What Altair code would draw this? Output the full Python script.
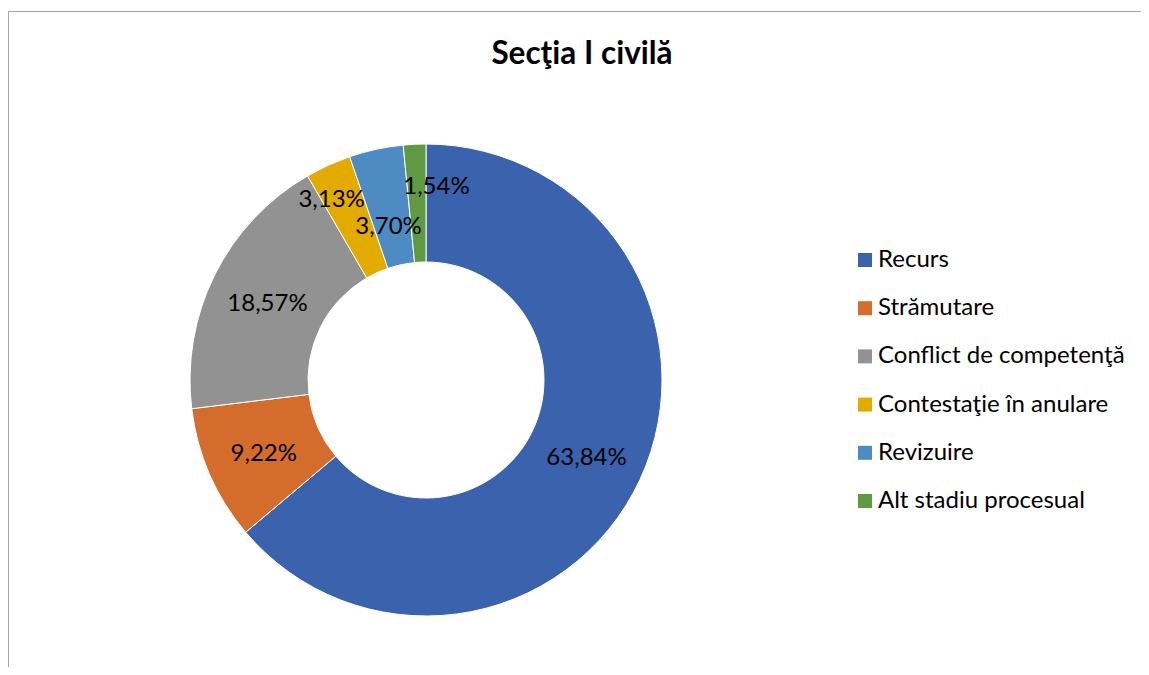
import altair as alt
import pandas as pd

title_text = "Secţia I civilă"
categories = ["Recurs", "Strămutare", "Conflict de competenţă",
              "Contestaţie în anulare", "Revizuire", "Alt stadiu procesual"]
values = [63.84, 9.22, 18.57, 3.13, 3.70, 1.54]
labels = ["63,84%", "9,22%", "18,57%", "3,13%", "3,70%", "1,54%"]
colors = ["#3B62AD", "#D46C2C", "#929292", "#E3AA00", "#4F8BC3", "#5F9A42"]

df = pd.DataFrame({"cat": categories, "val": values, "label": labels,
                   "idx": list(range(len(categories)))})

CX, CY = 418, 372  # donut centre inside the view
theta_scale = alt.Scale(domain=[0, 100])

base = alt.Chart(df).transform_window(
    end="sum(val)", sort=[alt.SortField("idx")]
).transform_calculate(
    start="datum.end - datum.val", mid="datum.end - datum.val/2"
)

arcs = base.mark_arc(innerRadius=118, outerRadius=236, stroke="white", strokeWidth=1).encode(
    theta=alt.Theta("start:Q", scale=theta_scale),
    theta2="end:Q",
    color=alt.Color("cat:N", scale=alt.Scale(domain=categories, range=colors),
                    legend=alt.Legend(title=None, orient="none", legendX=845, legendY=240,
                                      symbolType="square", symbolSize=196, symbolStrokeWidth=0,
                                      labelFontSize=24, labelFont="Lato", labelColor="black",
                                      labelLimit=400, rowPadding=24.2, labelOffset=1, padding=0)),
    x=alt.value(CX), y=alt.value(CY),
)

def label_layer(cond, dx=0, dy=3):
    return base.transform_filter(cond).mark_text(
        radius=177, fontSize=24, font="Lato", color="black", dx=dx, dy=dy
    ).encode(
        theta=alt.Theta("mid:Q", scale=theta_scale),
        text="label:N",
        x=alt.value(CX), y=alt.value(CY),
    )

main_labels = label_layer("datum.idx <= 2")
l3 = label_layer("datum.idx == 3", dx=-21, dy=-19)
l4 = label_layer("datum.idx == 4", dx=0, dy=20)
l5 = label_layer("datum.idx == 5", dx=19, dy=-16)

title = alt.Chart(pd.DataFrame({"t": [title_text]})).mark_text(
    font="Lato", fontSize=31.5, fontWeight="bold", color="black",
    align="center", baseline="alphabetic"
).encode(text="t:N", x=alt.value(574), y=alt.value(56))

frame_top = alt.Chart(df).mark_rule(color="#A6A6A6", strokeWidth=1.2).encode(
    x=alt.value(0), x2=alt.value(1133), y=alt.value(3.5)
)
frame_left = alt.Chart(df).mark_rule(color="#A6A6A6", strokeWidth=2).encode(
    x=alt.value(0), y=alt.value(3), y2=alt.value(659)
)

chart = alt.layer(frame_top, frame_left, arcs, main_labels, l3, l4, l5, title).properties(
    width=1133, height=659,
    autosize=alt.AutoSizeParams(type="none"),
    padding=0,
).configure_view(stroke=None)

chart.save("out.html", embed_options={"renderer": "svg", "actions": False})
